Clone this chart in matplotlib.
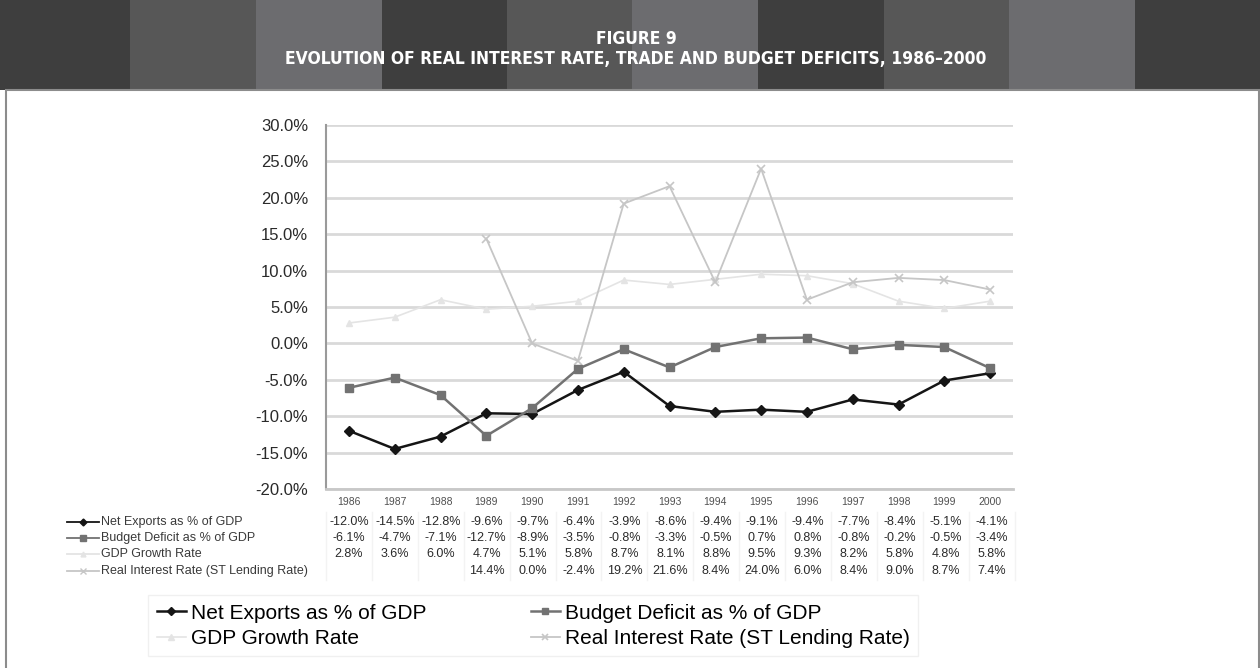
import matplotlib
matplotlib.use("Agg")
import matplotlib.pyplot as plt
from matplotlib.patches import Rectangle
from matplotlib.lines import Line2D
from matplotlib.ticker import FuncFormatter

plt.rcParams['font.family'] = ['Liberation Sans', 'DejaVu Sans']

# Series, 1986-2000 (percent)
years = list(range(1986, 2001))
net_exports = [-12.0, -14.5, -12.8, -9.6, -9.7, -6.4, -3.9, -8.6, -9.4, -9.1, -9.4, -7.7, -8.4, -5.1, -4.1]
budget_deficit = [-6.1, -4.7, -7.1, -12.7, -8.9, -3.5, -0.8, -3.3, -0.5, 0.7, 0.8, -0.8, -0.2, -0.5, -3.4]
gdp_growth = [2.8, 3.6, 6.0, 4.7, 5.1, 5.8, 8.7, 8.1, 8.8, 9.5, 9.3, 8.2, 5.8, 4.8, 5.8]
real_rate = [None, None, None, 14.4, 0.0, -2.4, 19.2, 21.6, 8.4, 24.0, 6.0, 8.4, 9.0, 8.7, 7.4]

series_labels = ["Net Exports as % of GDP", "Budget Deficit as % of GDP",
                 "GDP Growth Rate", "Real Interest Rate (ST Lending Rate)"]
title_lines = ["FIGURE 9", "EVOLUTION OF REAL INTEREST RATE, TRADE AND BUDGET DEFICITS, 1986\u20132000"]

W, H = 1260, 668
fig = plt.figure(figsize=(W / 100, H / 100), dpi=100)


def fx(px):
    return px / W


def fy(py):
    return 1 - py / H


# striped header band
stripe_cols = ['#3e3e3e', '#575757', '#6c6c6f']
edges = [0, 130, 256, 382, 507, 632, 758, 884, 1009, 1135, 1260]
for i in range(len(edges) - 1):
    fig.add_artist(Rectangle((fx(edges[i]), fy(90)), fx(edges[i + 1] - edges[i]), 90 / H,
                             transform=fig.transFigure, facecolor=stripe_cols[i % 3],
                             edgecolor='none', zorder=0))
fig.add_artist(Rectangle((fx(6), fy(672)), fx(1253), 582 / H, transform=fig.transFigure,
                         facecolor='none', edgecolor='#8c8c8c', lw=1.5, zorder=1))
fig.text(fx(636), fy(39), title_lines[0], color='white', fontsize=12.5, fontweight='bold',
         family='DejaVu Sans', stretch='condensed', ha='center', va='center')
fig.text(fx(636), fy(59), title_lines[1], color='white', fontsize=12.5, fontweight='bold',
         family='DejaVu Sans', stretch='condensed', ha='center', va='center')

# plot area
ax = fig.add_axes([fx(326), fy(489), fx(1013 - 326), (489 - 125) / H])
x = list(range(len(years)))

styles = [
    dict(color='#151515', marker='D', ms=5, lw=1.8),
    dict(color='#727272', marker='s', ms=6, lw=1.8),
    dict(color='#e4e4e4', marker='^', ms=5, lw=1.2),
    dict(color='#c6c6c6', marker='x', ms=6, lw=1.3, mew=1.2),
]
all_series = [net_exports, budget_deficit, gdp_growth, real_rate]
handles = []
for vals, st, lab in zip(all_series, styles, series_labels):
    xs = [i for i, v in zip(x, vals) if v is not None]
    ys = [v for v in vals if v is not None]
    ln, = ax.plot(xs, ys, label=lab, zorder=3, **st)
    handles.append(ln)
# draw the light lines underneath the darker ones
handles[2].set_zorder(2)
handles[3].set_zorder(2.5)

ax.set_xlim(-0.5, len(years) - 0.5)
ax.set_ylim(-20, 30)
ax.set_yticks(range(-20, 31, 5))
ax.yaxis.set_major_formatter(FuncFormatter(lambda v, p: f"{v:.1f}%"))
ax.tick_params(axis='y', length=0, pad=13, labelsize=12, labelcolor='#2a2a2a')
ax.set_xticks(x)
ax.set_xticklabels([str(y) for y in years])
ax.tick_params(axis='x', length=0, pad=6, labelsize=7.5, labelcolor='#505050')
ax.grid(axis='y', color='#d9d9d9', lw=2)
ax.set_axisbelow(True)
for s in ['top', 'right']:
    ax.spines[s].set_visible(False)
ax.spines['left'].set_color('#9a9a9a')
ax.spines['left'].set_linewidth(1.5)
ax.spines['bottom'].set_color('#c8c8c8')
ax.spines['bottom'].set_linewidth(2)

# data table below the axis
row_y = [522, 538, 554, 571]
col_x = [349 + i * 45.9 for i in range(len(years))]
for r, (vals, st, lab) in enumerate(zip(all_series, styles, series_labels)):
    yy = fy(row_y[r])
    fig.add_artist(Line2D([fx(67), fx(99)], [yy, yy], transform=fig.transFigure,
                          color=st['color'], lw=1.3))
    fig.add_artist(Line2D([fx(83)], [yy], transform=fig.transFigure, color=st['color'],
                          marker=st['marker'], ms=st['ms'] * 0.7, lw=0))
    fig.text(fx(101), yy, lab, fontsize=9, color='#3a3a3a', ha='left', va='center')
    for c, v in enumerate(vals):
        if v is None:
            continue
        fig.text(fx(col_x[c]), yy, f"{v:.1f}%", fontsize=9, color='#2a2a2a',
                 ha='center', va='center')
for c in range(len(years) + 1):
    xx = fx(326 + c * 45.9)
    fig.add_artist(Line2D([xx, xx], [fy(512), fy(580)], transform=fig.transFigure,
                          color='#f3f3f3', lw=1))

# legend laid out row by row: column-major order for ncol=2
order = [0, 2, 1, 3]
leg = fig.legend(handles=[handles[i] for i in order], labels=[series_labels[i] for i in order],
                 ncol=2, loc='upper left',
                 bbox_to_anchor=(fx(138), fy(585)), fontsize=15, frameon=True,
                 handlelength=1.4, handletextpad=0.25, columnspacing=5.0,
                 labelspacing=0.3, borderpad=0.4, fancybox=False, markerscale=0.75)
leg.get_frame().set_edgecolor('#ededed')
leg.get_frame().set_linewidth(1)

fig.savefig("out.png", dpi=100)
